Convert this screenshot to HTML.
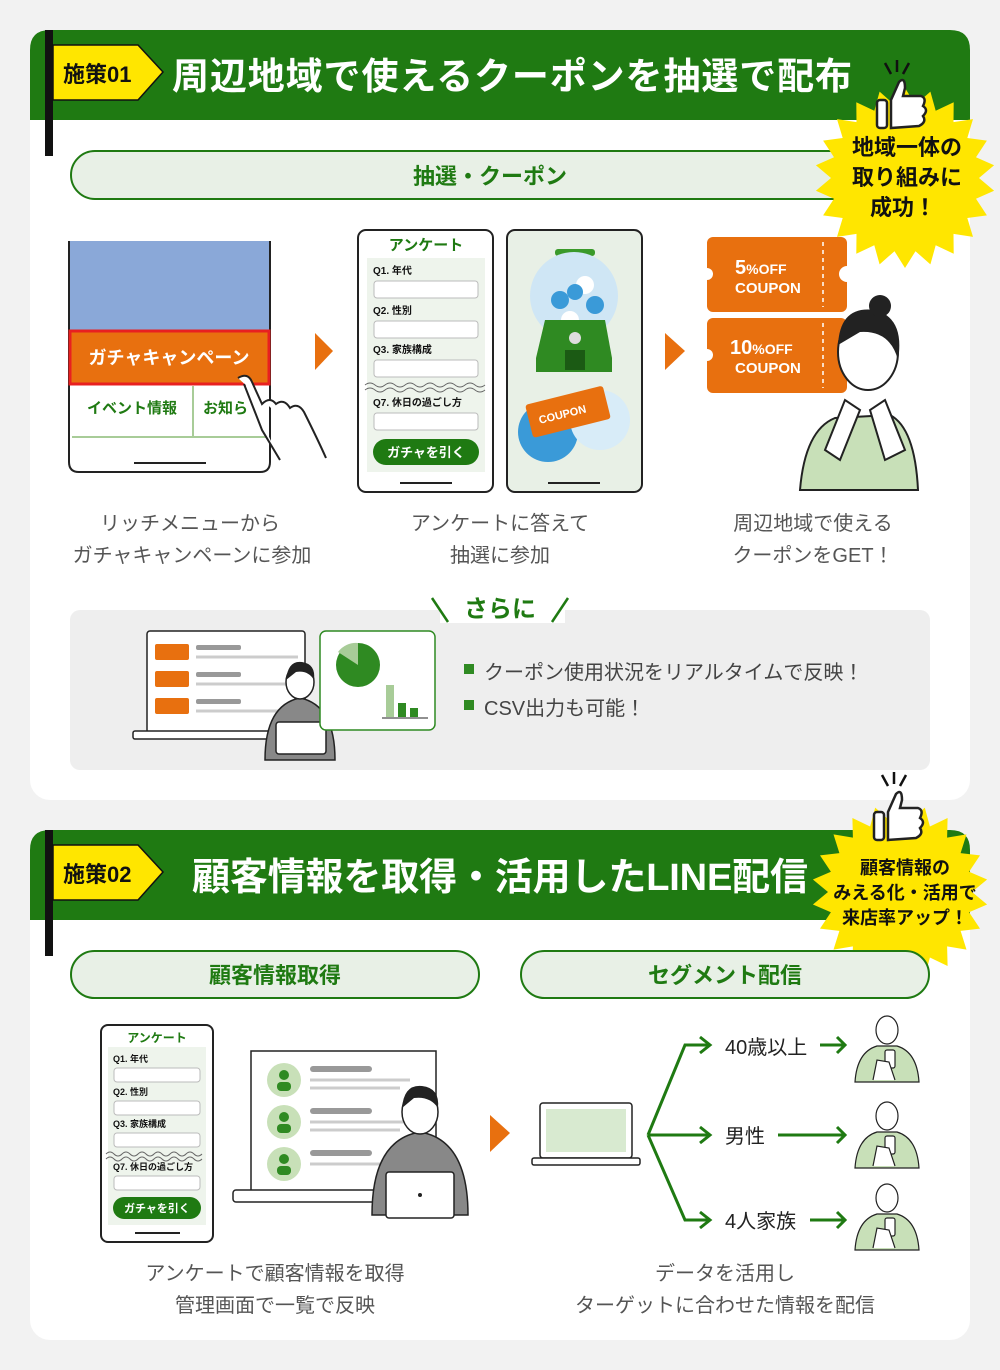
<!DOCTYPE html>
<html><head><meta charset="utf-8">
<style>
html,body{margin:0;padding:0;background:#f2f2f2;}
svg{display:block;}
text{font-family:"Liberation Sans","Noto Sans CJK JP",sans-serif;}
</style></head><body>
<svg width="1000" height="1370" viewBox="0 0 1000 1370" xmlns="http://www.w3.org/2000/svg">
<defs>
<g id="person">
  <path d="M0,70 Q2,40 22,34 L42,34 Q62,40 64,70 Z" fill="#c8e0b8" stroke="#222" stroke-width="1.2"/>
  <ellipse cx="32" cy="18" rx="11" ry="14" fill="#fff" stroke="#222" stroke-width="1.2"/>
  <rect x="30" y="38" width="10" height="18" rx="2" fill="#fff" stroke="#222" stroke-width="1.2"/>
  <path d="M18,68 L22,48 L34,50 L40,68" fill="#fff" stroke="#222" stroke-width="1.2"/>
</g>
</defs>
<rect width="1000" height="1370" fill="#f2f2f2"/>

<!-- CARD 1 -->
<rect x="30" y="30" width="940" height="770" rx="20" fill="#fff"/>
<path d="M30,120 L30,50 Q30,30 50,30 L950,30 Q970,30 970,50 L970,120 Z" fill="#1f7a12"/>
<rect x="45" y="30" width="8" height="126" fill="#111"/>
<polygon points="53,45 138,45 163,72 138,100 53,100" fill="#ffe600" stroke="#111" stroke-width="1.5"/>
<text x="63" y="82" font-size="22" font-weight="bold" fill="#111">施策01</text>
<text x="172" y="89" font-size="37" font-weight="bold" fill="#fff" textLength="680" lengthAdjust="spacing">周辺地域で使えるクーポンを抽選で配布</text>

<rect x="71" y="151" width="840" height="48" rx="24" fill="#e8f0e6" stroke="#1f7a12" stroke-width="2"/>
<text x="490" y="184" font-size="22" font-weight="bold" fill="#1f7a12" text-anchor="middle">抽選・クーポン</text>

<!-- starburst 1 -->
<polygon id="sb1" fill="#ffe600"/>
<g transform="translate(875,60)">
  <path d="M10,3 L16,14 M22,0 L22,12 M34,3 L28,14" stroke="#111" stroke-width="2.5"/>
  <rect x="2" y="40" width="10" height="28" rx="3" fill="#fff" stroke="#222" stroke-width="2.5"/>
  <path d="M16,40 L24,22 Q30,16 30,28 L28,36 L46,36 Q52,38 48,46 Q54,50 48,56 Q52,62 44,66 L16,68 Z" fill="#fff" stroke="#222" stroke-width="2.5"/>
</g>
<text x="907" y="155" font-size="22" font-weight="bold" fill="#111" text-anchor="middle">地域一体の</text>
<text x="907" y="185" font-size="22" font-weight="bold" fill="#111" text-anchor="middle">取り組みに</text>
<text x="903" y="215" font-size="22" font-weight="bold" fill="#111" text-anchor="middle">成功！</text>

<!-- phone 1 -->
<path d="M69,241 L69,462 Q69,472 79,472 L260,472 Q270,472 270,462 L270,241" fill="#fff" stroke="#222" stroke-width="2"/>
<rect x="70" y="241" width="199" height="90" fill="#8aa8d8"/>
<rect x="70" y="331" width="199" height="53" fill="#e8700f" stroke="#e82020" stroke-width="3"/>
<text x="169" y="364" font-size="18" font-weight="bold" fill="#fff" text-anchor="middle">ガチャキャンペーン</text>
<line x1="193" y1="386" x2="193" y2="437" stroke="#a8cc98" stroke-width="2"/>
<line x1="72" y1="437" x2="268" y2="437" stroke="#a8cc98" stroke-width="2"/>
<text x="132" y="413" font-size="15" font-weight="bold" fill="#1f7a12" text-anchor="middle">イベント情報</text>
<text x="203" y="413" font-size="15" font-weight="bold" fill="#1f7a12">お知ら</text>
<line x1="134" y1="463" x2="206" y2="463" stroke="#222" stroke-width="2"/>
<path d="M238,378 Q248,372 252,382 L262,404 Q270,396 276,404 Q284,398 290,408 Q298,402 304,412 Q318,440 326,458 M244,384 L262,430 L280,460" fill="#fff" stroke="#222" stroke-width="2"/>
<polygon points="315,333 333,351 315,370" fill="#e8700f"/>

<!-- phone 2 -->
<rect x="358" y="230" width="135" height="262" rx="8" fill="#fff" stroke="#222" stroke-width="2"/>
<text x="426" y="250" font-size="15" font-weight="bold" fill="#1f7a12" text-anchor="middle">アンケート</text>
<rect x="367" y="258" width="118" height="214" fill="#eef4ec"/>
<text x="373" y="274" font-size="10" font-weight="bold" fill="#111">Q1. 年代</text>
<rect x="374" y="281" width="104" height="17" rx="3" fill="#fff" stroke="#bbb"/>
<text x="373" y="314" font-size="10" font-weight="bold" fill="#111">Q2. 性別</text>
<rect x="374" y="321" width="104" height="17" rx="3" fill="#fff" stroke="#bbb"/>
<text x="373" y="353" font-size="10" font-weight="bold" fill="#111">Q3. 家族構成</text>
<rect x="374" y="360" width="104" height="17" rx="3" fill="#fff" stroke="#bbb"/>
<path d="M365,385 q5,-4 10,0 t10,0 t10,0 t10,0 t10,0 t10,0 t10,0 t10,0 t10,0 t10,0 t10,0 t10,0 M365,390 q5,-4 10,0 t10,0 t10,0 t10,0 t10,0 t10,0 t10,0 t10,0 t10,0 t10,0 t10,0 t10,0" fill="none" stroke="#666" stroke-width="1"/>
<text x="373" y="406" font-size="10" font-weight="bold" fill="#111">Q7. 休日の過ごし方</text>
<rect x="374" y="413" width="104" height="17" rx="3" fill="#fff" stroke="#bbb"/>
<rect x="373" y="439" width="106" height="26" rx="13" fill="#1f7a12"/>
<text x="426" y="457" font-size="13" font-weight="bold" fill="#fff" text-anchor="middle">ガチャを引く</text>
<line x1="400" y1="483" x2="452" y2="483" stroke="#222" stroke-width="2"/>

<!-- phone 3 -->
<rect x="507" y="230" width="135" height="262" rx="8" fill="#e8f0e6" stroke="#222" stroke-width="2"/>
<rect x="555" y="249" width="40" height="7" rx="3" fill="#3a9a2a"/>
<circle cx="574" cy="296" r="44" fill="#cfe6f5"/>
<circle cx="560" cy="300" r="9" fill="#3a9ad8"/><circle cx="585" cy="285" r="9" fill="#fff"/><circle cx="595" cy="305" r="9" fill="#3a9ad8"/><circle cx="570" cy="320" r="9" fill="#fff"/><circle cx="575" cy="292" r="8" fill="#3a9ad8"/>
<path d="M545,320 L605,320 L612,358 L612,372 L536,372 L536,358 Z" fill="#2f8a22"/>
<rect x="565" y="350" width="20" height="20" fill="#1b5a14"/>
<circle cx="575" cy="338" r="6" fill="#ddd"/>
<circle cx="548" cy="432" r="30" fill="#3a9ad8"/>
<circle cx="600" cy="420" r="30" fill="#d8ecf8"/>
<g transform="rotate(-14 567 412)"><rect x="528" y="395" width="80" height="34" rx="3" fill="#e8700f"/>
<text x="562" y="417" font-size="11" font-weight="bold" fill="#fff" text-anchor="middle">COUPON</text></g>
<line x1="548" y1="483" x2="600" y2="483" stroke="#222" stroke-width="2"/>
<polygon points="665,333 685,351 665,370" fill="#e8700f"/>

<!-- coupons -->
<rect x="707" y="237" width="140" height="75" rx="6" fill="#e8700f"/>
<circle cx="847" cy="274" r="8" fill="#fff"/><circle cx="707" cy="274" r="6" fill="#fff"/>
<line x1="823" y1="242" x2="823" y2="307" stroke="#fff" stroke-dasharray="4 4" stroke-width="1.5"/>
<text x="735" y="274" font-size="20" font-weight="bold" fill="#fff">5<tspan font-size="14">%OFF</tspan></text>
<text x="735" y="293" font-size="15" font-weight="bold" fill="#fff">COUPON</text>
<rect x="707" y="318" width="140" height="75" rx="6" fill="#e8700f"/>
<circle cx="707" cy="355" r="6" fill="#fff"/>
<line x1="823" y1="323" x2="823" y2="388" stroke="#fff" stroke-dasharray="4 4" stroke-width="1.5"/>
<text x="730" y="354" font-size="20" font-weight="bold" fill="#fff">10<tspan font-size="14">%OFF</tspan></text>
<text x="735" y="373" font-size="15" font-weight="bold" fill="#fff">COUPON</text>
<!-- woman -->
<path d="M800,490 Q805,430 835,418 L890,415 Q915,428 918,490 Z" fill="#c8e0b8" stroke="#222" stroke-width="2"/>
<ellipse cx="868" cy="352" rx="30" ry="38" fill="#fff" stroke="#222" stroke-width="2"/>
<path d="M838,345 Q840,305 875,310 Q905,318 898,360 Q890,330 860,332 Z" fill="#222"/>
<circle cx="880" cy="306" r="11" fill="#222"/>
<path d="M825,450 L845,400 L860,410 L840,460 Z M885,460 L870,410 L885,400 L905,450 Z" fill="#fff" stroke="#222" stroke-width="2"/>

<text x="190" y="530" font-size="20" fill="#555" text-anchor="middle">リッチメニューから</text>
<text x="192" y="562" font-size="20" fill="#555" text-anchor="middle">ガチャキャンペーンに参加</text>
<text x="500" y="530" font-size="20" fill="#555" text-anchor="middle">アンケートに答えて</text>
<text x="500" y="562" font-size="20" fill="#555" text-anchor="middle">抽選に参加</text>
<text x="813" y="530" font-size="20" fill="#555" text-anchor="middle">周辺地域で使える</text>
<text x="813" y="562" font-size="20" fill="#555" text-anchor="middle">クーポンをGET！</text>

<!-- sarani box -->
<rect x="70" y="610" width="860" height="160" rx="10" fill="#eeeeee"/>
<rect x="440" y="595" width="125" height="28" fill="#fff"/>
<path d="M432,598 L448,622 M568,598 L552,622" stroke="#1f7a12" stroke-width="2.5"/>
<text x="500" y="617" font-size="24" font-weight="bold" fill="#1f7a12" text-anchor="middle">さらに</text>
<rect x="147" y="631" width="158" height="102" rx="3" fill="#fff" stroke="#222" stroke-width="1.5"/>
<rect x="133" y="731" width="186" height="8" rx="2" fill="#fff" stroke="#222" stroke-width="1.5"/>
<g fill="#e8700f"><rect x="155" y="644" width="34" height="16" rx="2"/><rect x="155" y="671" width="34" height="16" rx="2"/><rect x="155" y="698" width="34" height="16" rx="2"/></g>
<g fill="#999"><rect x="196" y="645" width="45" height="5" rx="2"/><rect x="196" y="672" width="45" height="5" rx="2"/><rect x="196" y="699" width="45" height="5" rx="2"/></g>
<g stroke="#ccc" stroke-width="3"><line x1="196" y1="657" x2="298" y2="657"/><line x1="196" y1="684" x2="298" y2="684"/><line x1="196" y1="711" x2="298" y2="711"/></g>
<path d="M265,760 Q265,705 300,698 Q335,705 335,760 Z" fill="#888" stroke="#222" stroke-width="1.5"/>
<ellipse cx="300" cy="682" rx="14" ry="17" fill="#fff" stroke="#222" stroke-width="1.5"/>
<path d="M286,680 Q288,660 302,662 Q316,664 314,680 Q308,670 296,672 Z" fill="#222"/>
<rect x="276" y="722" width="50" height="32" rx="3" fill="#fff" stroke="#222" stroke-width="1.5"/>
<rect x="320" y="631" width="115" height="99" rx="6" fill="#fff" stroke="#2f8a22" stroke-width="1.5"/>
<circle cx="358" cy="665" r="22" fill="#2f8a22"/>
<path d="M358,665 L338,652 A22,22 0 0,1 358,643 Z" fill="#a8cc98"/>
<rect x="386" y="685" width="8" height="32" fill="#a8cc98"/><rect x="398" y="703" width="8" height="14" fill="#2f8a22"/><rect x="410" y="708" width="8" height="9" fill="#2f8a22"/>
<line x1="382" y1="718" x2="428" y2="718" stroke="#222"/>
<rect x="464" y="664" width="10" height="10" fill="#2f8a22"/>
<text x="484" y="679" font-size="20" fill="#444">クーポン使用状況をリアルタイムで反映！</text>
<rect x="464" y="700" width="10" height="10" fill="#2f8a22"/>
<text x="484" y="715" font-size="20" fill="#444">CSV出力も可能！</text>

<!-- CARD 2 -->
<rect x="30" y="830" width="940" height="510" rx="20" fill="#fff"/>
<path d="M30,920 L30,850 Q30,830 50,830 L950,830 Q970,830 970,850 L970,920 Z" fill="#1f7a12"/>
<rect x="45" y="830" width="8" height="126" fill="#111"/>
<polygon points="53,845 138,845 163,872 138,900 53,900" fill="#ffe600" stroke="#111" stroke-width="1.5"/>
<text x="63" y="882" font-size="22" font-weight="bold" fill="#111">施策02</text>
<text x="192" y="890" font-size="38" font-weight="bold" fill="#fff" textLength="616" lengthAdjust="spacing">顧客情報を取得・活用したLINE配信</text>

<polygon id="sb2" fill="#ffe600"/>
<g transform="translate(872,772)">
  <path d="M10,3 L16,14 M22,0 L22,12 M34,3 L28,14" stroke="#111" stroke-width="2.5"/>
  <rect x="2" y="40" width="10" height="28" rx="3" fill="#fff" stroke="#222" stroke-width="2.5"/>
  <path d="M16,40 L24,22 Q30,16 30,28 L28,36 L46,36 Q52,38 48,46 Q54,50 48,56 Q52,62 44,66 L16,68 Z" fill="#fff" stroke="#222" stroke-width="2.5"/>
</g>
<text x="905" y="874" font-size="18" font-weight="bold" fill="#111" text-anchor="middle">顧客情報の</text>
<text x="905" y="899" font-size="18" font-weight="bold" fill="#111" text-anchor="middle">みえる化・活用で</text>
<text x="905" y="924" font-size="18" font-weight="bold" fill="#111" text-anchor="middle">来店率アップ！</text>

<rect x="71" y="951" width="408" height="47" rx="23.5" fill="#e8f0e6" stroke="#1f7a12" stroke-width="2"/>
<text x="275" y="983" font-size="22" font-weight="bold" fill="#1f7a12" text-anchor="middle">顧客情報取得</text>
<rect x="521" y="951" width="408" height="47" rx="23.5" fill="#e8f0e6" stroke="#1f7a12" stroke-width="2"/>
<text x="725" y="983" font-size="22" font-weight="bold" fill="#1f7a12" text-anchor="middle">セグメント配信</text>

<!-- phone 4 -->
<rect x="101" y="1025" width="112" height="217" rx="7" fill="#fff" stroke="#222" stroke-width="2"/>
<text x="157" y="1042" font-size="12" font-weight="bold" fill="#1f7a12" text-anchor="middle">アンケート</text>
<rect x="108" y="1047" width="98" height="178" fill="#eef4ec"/>
<text x="113" y="1062" font-size="9" font-weight="bold" fill="#111">Q1. 年代</text>
<rect x="114" y="1068" width="86" height="14" rx="3" fill="#fff" stroke="#bbb"/>
<text x="113" y="1095" font-size="9" font-weight="bold" fill="#111">Q2. 性別</text>
<rect x="114" y="1101" width="86" height="14" rx="3" fill="#fff" stroke="#bbb"/>
<text x="113" y="1127" font-size="9" font-weight="bold" fill="#111">Q3. 家族構成</text>
<rect x="114" y="1133" width="86" height="14" rx="3" fill="#fff" stroke="#bbb"/>
<path d="M106,1154 q4,-4 8,0 t8,0 t8,0 t8,0 t8,0 t8,0 t8,0 t8,0 t8,0 t8,0 t8,0 t8,0 M106,1159 q4,-4 8,0 t8,0 t8,0 t8,0 t8,0 t8,0 t8,0 t8,0 t8,0 t8,0 t8,0 t8,0" fill="none" stroke="#666"/>
<text x="113" y="1170" font-size="9" font-weight="bold" fill="#111">Q7. 休日の過ごし方</text>
<rect x="114" y="1176" width="86" height="14" rx="3" fill="#fff" stroke="#bbb"/>
<rect x="113" y="1197" width="88" height="22" rx="11" fill="#1f7a12"/>
<text x="157" y="1212" font-size="11" font-weight="bold" fill="#fff" text-anchor="middle">ガチャを引く</text>
<line x1="135" y1="1233" x2="180" y2="1233" stroke="#222" stroke-width="2"/>

<!-- monitor -->
<rect x="251" y="1051" width="185" height="140" fill="#fff" stroke="#222" stroke-width="1.5"/>
<rect x="233" y="1190" width="230" height="12" rx="3" fill="#fff" stroke="#222" stroke-width="1.5"/>
<g fill="#c8e0b8"><circle cx="284" cy="1080" r="17"/><circle cx="284" cy="1122" r="17"/><circle cx="284" cy="1164" r="17"/></g>
<g fill="#2f8a22"><circle cx="284" cy="1075" r="5"/><rect x="277" y="1082" width="14" height="9" rx="4"/><circle cx="284" cy="1117" r="5"/><rect x="277" y="1124" width="14" height="9" rx="4"/><circle cx="284" cy="1159" r="5"/><rect x="277" y="1166" width="14" height="9" rx="4"/></g>
<g fill="#999"><rect x="310" y="1066" width="62" height="6" rx="3"/><rect x="310" y="1108" width="62" height="6" rx="3"/><rect x="310" y="1150" width="62" height="6" rx="3"/></g>
<g stroke="#ccc" stroke-width="3"><line x1="310" y1="1080" x2="410" y2="1080"/><line x1="310" y1="1088" x2="400" y2="1088"/><line x1="310" y1="1122" x2="410" y2="1122"/><line x1="310" y1="1130" x2="400" y2="1130"/><line x1="310" y1="1164" x2="400" y2="1164"/></g>
<path d="M372,1215 Q372,1140 420,1132 Q468,1140 468,1215 Z" fill="#888" stroke="#222" stroke-width="1.5"/>
<ellipse cx="420" cy="1112" rx="18" ry="22" fill="#fff" stroke="#222" stroke-width="1.5"/>
<path d="M402,1108 Q404,1084 422,1086 Q440,1088 438,1108 Q430,1096 414,1098 Z" fill="#222"/>
<rect x="386" y="1172" width="68" height="46" rx="3" fill="#fff" stroke="#222" stroke-width="1.5"/>
<circle cx="420" cy="1195" r="2" fill="#222"/>
<polygon points="490,1115 510,1133 490,1152" fill="#e8700f"/>

<!-- laptop -->
<rect x="540" y="1103" width="92" height="55" rx="3" fill="#fff" stroke="#222" stroke-width="1.5"/>
<rect x="546" y="1109" width="80" height="43" fill="#d8ead0"/>
<rect x="532" y="1158" width="108" height="7" rx="2" fill="#fff" stroke="#222" stroke-width="1.5"/>
<!-- branches -->
<g stroke="#1f7a12" stroke-width="3" fill="none">
<path d="M648,1135 L685,1045 L710,1045 M648,1135 L710,1135 M648,1135 L685,1220 L710,1220"/>
<path d="M700,1037 L710,1045 L700,1053 M700,1127 L710,1135 L700,1143 M700,1212 L710,1220 L700,1228"/>
<path d="M820,1045 L845,1045 M837,1037 L845,1045 L837,1053 M778,1135 L845,1135 M837,1127 L845,1135 L837,1143 M810,1220 L845,1220 M837,1212 L845,1220 L837,1228"/>
</g>
<text x="725" y="1054" font-size="20" fill="#222">40歳以上</text>
<text x="725" y="1143" font-size="20" fill="#222">男性</text>
<text x="725" y="1228" font-size="20" fill="#222">4人家族</text>
<use href="#person" x="855" y="1012"/>
<use href="#person" x="855" y="1098"/>
<use href="#person" x="855" y="1180"/>

<text x="275" y="1280" font-size="20" fill="#555" text-anchor="middle">アンケートで顧客情報を取得</text>
<text x="275" y="1312" font-size="20" fill="#555" text-anchor="middle">管理画面で一覧で反映</text>
<text x="725" y="1280" font-size="20" fill="#555" text-anchor="middle">データを活用し</text>
<text x="725" y="1312" font-size="20" fill="#555" text-anchor="middle">ターゲットに合わせた情報を配信</text>
</svg>
<script>
function star(id,cx,cy,ro,ri,n){var p=[];for(var i=0;i<2*n;i++){var r=i%2?ri:ro;var a=Math.PI*i/n-Math.PI/2;p.push((cx+r*Math.cos(a)).toFixed(1)+','+(cy+r*Math.sin(a)).toFixed(1));}document.getElementById(id).setAttribute('points',p.join(' '));}
star('sb1',905,178,90,74,22);
star('sb2',900,892,88,72,22);
</script>
</body></html>
